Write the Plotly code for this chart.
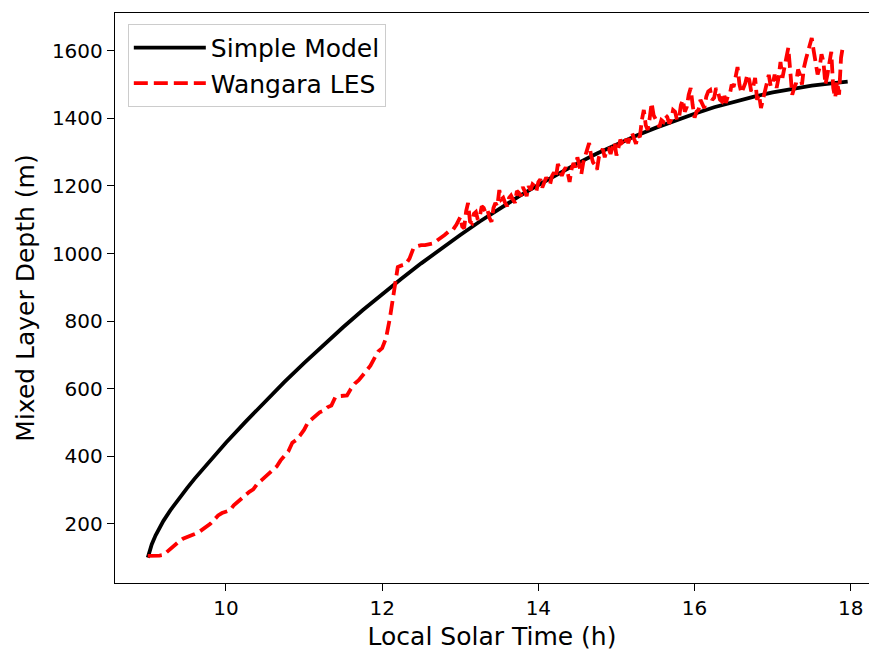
import plotly.graph_objects as go

# Simple (slab) model of mixed-layer growth
model_time = [9.00, 9.02, 9.05, 9.10, 9.15, 9.20, 9.30, 9.40, 9.50, 9.60, 9.70, 9.80, 9.90,
              10.00, 10.25, 10.50, 10.75, 11.00, 11.25, 11.50, 11.75, 12.00, 12.25,
              12.50, 12.75, 13.00, 13.25, 13.50, 13.75, 14.00, 14.25, 14.50, 14.75,
              15.00, 15.25, 15.50, 15.75, 16.00, 16.25, 16.50, 16.75, 17.00, 17.25,
              17.50, 17.75, 17.96]
model_depth = [100, 118, 139, 166, 189, 209, 244, 276, 305, 334, 361, 388, 414,
               440, 502, 562, 620, 676, 730, 782, 832, 880, 926,
               971, 1014, 1055, 1095, 1133, 1169, 1203, 1236, 1267, 1296,
               1323, 1349, 1372, 1394, 1414, 1433, 1449, 1464, 1477, 1488,
               1497, 1504, 1509]

# Wangara large-eddy simulation output: morning growth (3-min samples)
les_time_am = [9.00, 9.05, 9.10, 9.15, 9.20, 9.25, 9.30, 9.35, 9.40, 9.45, 9.50, 9.55,
               9.60, 9.65, 9.70, 9.75, 9.80, 9.85, 9.90, 9.95, 10.00, 10.05, 10.10, 10.15,
               10.20, 10.25, 10.30, 10.35, 10.40, 10.45, 10.50, 10.55, 10.60, 10.65, 10.70,
               10.75, 10.80, 10.85, 10.90, 10.95, 11.00, 11.05, 11.10, 11.15, 11.20, 11.25,
               11.30, 11.35, 11.40, 11.45, 11.50, 11.55, 11.60, 11.65, 11.70, 11.75, 11.80,
               11.85, 11.90, 11.95, 12.00, 12.05, 12.10, 12.15, 12.20, 12.25, 12.30, 12.35,
               12.40, 12.45, 12.50, 12.55, 12.60, 12.65, 12.70, 12.75, 12.80, 12.85, 12.90,
               12.95]
les_depth_am = [105, 105, 105, 106, 108, 118, 128, 140, 148, 156, 160, 165,
                170, 175, 183, 190, 200, 212, 225, 232, 236, 240, 255, 265,
                275, 287, 295, 302, 318, 328, 338, 350, 360, 370, 388,
                400, 415, 440, 448, 462, 478, 500, 510, 520, 530, 535,
                545, 550, 575, 578, 578, 580, 600, 615, 625, 640, 655,
                668, 690, 710, 720, 750, 810, 893, 960, 965, 968, 985,
                1015, 1022, 1025, 1025, 1028, 1030, 1038, 1045, 1055, 1065, 1068,
                1085]

# Afternoon (1.5-min samples, turbulent fluctuations of the inversion height)
les_time_pm = [13.000, 13.025, 13.050, 13.075, 13.100, 13.125, 13.150, 13.175, 13.200, 13.225,
               13.250, 13.275, 13.300, 13.325, 13.350, 13.375, 13.400, 13.425, 13.450, 13.475,
               13.500, 13.525, 13.550, 13.575, 13.600, 13.625, 13.650, 13.675, 13.700, 13.725,
               13.750, 13.775, 13.800, 13.825, 13.850, 13.875, 13.900, 13.925, 13.950, 13.975,
               14.000, 14.025, 14.050, 14.075, 14.100, 14.125, 14.150, 14.175, 14.200, 14.225,
               14.250, 14.275, 14.300, 14.325, 14.350, 14.375, 14.400, 14.425, 14.450, 14.475,
               14.500, 14.525, 14.550, 14.575, 14.600, 14.625, 14.650, 14.675, 14.700, 14.725,
               14.750, 14.775, 14.800, 14.825, 14.850, 14.875, 14.900, 14.925, 14.950, 14.975,
               15.000, 15.025, 15.050, 15.075, 15.100, 15.125, 15.150, 15.175, 15.200, 15.225,
               15.250, 15.275, 15.300, 15.325, 15.350, 15.375, 15.400, 15.425, 15.450, 15.475,
               15.500, 15.525, 15.550, 15.575, 15.600, 15.625, 15.650, 15.675, 15.700, 15.725,
               15.750, 15.775, 15.800, 15.825, 15.850, 15.875, 15.900, 15.925, 15.950, 15.975,
               16.000, 16.025, 16.050, 16.075, 16.100, 16.125, 16.150, 16.175, 16.200, 16.225,
               16.250, 16.275, 16.300, 16.325, 16.350, 16.375, 16.400, 16.425, 16.450, 16.475,
               16.500, 16.525, 16.550, 16.575, 16.600, 16.625, 16.650, 16.675, 16.700, 16.725,
               16.750, 16.775, 16.800, 16.825, 16.850, 16.875, 16.900, 16.925, 16.950, 16.975,
               17.000, 17.025, 17.050, 17.075, 17.100, 17.125, 17.150, 17.175, 17.200, 17.225,
               17.250, 17.275, 17.300, 17.325, 17.350, 17.375, 17.400, 17.425, 17.450, 17.475,
               17.500, 17.525, 17.550, 17.575, 17.600, 17.625, 17.650, 17.675, 17.700, 17.725,
               17.750, 17.775, 17.800, 17.825, 17.850, 17.875, 17.900]
les_depth_pm = [1108, 1080, 1075, 1125, 1150, 1095, 1090, 1118, 1123, 1100,
                1110, 1140, 1135, 1120, 1128, 1105, 1094, 1135, 1150, 1140,
                1188, 1160, 1165, 1150, 1140, 1165, 1172, 1160, 1150, 1185,
                1180, 1170, 1197, 1185, 1170, 1200, 1188, 1205, 1200, 1185,
                1212, 1220, 1195, 1210, 1225, 1215, 1205, 1230, 1240, 1225,
                1265, 1250, 1230, 1245, 1255, 1240, 1212, 1250, 1268, 1255,
                1285, 1260, 1235, 1270, 1290, 1300, 1327, 1290, 1270, 1262,
                1248, 1285, 1300, 1310, 1285, 1307, 1310, 1295, 1316, 1330,
                1290, 1310, 1337, 1325, 1318, 1340, 1327, 1345, 1357, 1340,
                1325, 1350, 1345, 1395, 1425, 1380, 1366, 1400, 1446, 1410,
                1396, 1385, 1375, 1395, 1390, 1410, 1404, 1385, 1396, 1425,
                1420, 1395, 1400, 1440, 1455, 1420, 1434, 1470, 1490, 1440,
                1402, 1420, 1425, 1455, 1440, 1430, 1465, 1480, 1484, 1455,
                1461, 1490, 1478, 1455, 1450, 1475, 1446, 1465, 1470, 1500,
                1493, 1520, 1552, 1500, 1475, 1490, 1505, 1530, 1514, 1480,
                1493, 1520, 1455, 1470, 1431, 1455, 1480, 1510, 1529, 1495,
                1500, 1530, 1490, 1520, 1567, 1520, 1545, 1580, 1609, 1540,
                1470, 1490, 1505, 1545, 1529, 1500, 1550, 1575, 1597, 1610,
                1638, 1600, 1567, 1530, 1550, 1590, 1567, 1500, 1529, 1560,
                1597, 1490, 1461, 1510, 1470, 1580, 1615]

x_ticks = [10, 12, 14, 16, 18]
y_ticks = [200, 400, 600, 800, 1000, 1200, 1400, 1600]

FONT = "DejaVu Sans"

fig = go.Figure()
fig.add_trace(go.Scatter(
    x=model_time, y=model_depth, mode="lines", name="Simple Model",
    line=dict(color="black", width=3.8),
))
fig.add_trace(go.Scatter(
    x=les_time_am + les_time_pm, y=les_depth_am + les_depth_pm,
    mode="lines", name="Wangara LES",
    line=dict(color="#ff0000", width=3.8, dash="14px,6px"),
))

axis_common = dict(
    showgrid=False, zeroline=False,
    showline=True, linecolor="black", linewidth=1.4,
    ticks="outside", ticklen=7, tickwidth=1.3, tickcolor="black",
    tickfont=dict(family=FONT, size=20, color="black"),
)

fig.update_layout(
    width=869, height=651,
    margin=dict(l=115, r=0, t=13, b=68),
    plot_bgcolor="white", paper_bgcolor="white",
    font=dict(family=FONT, color="black"),
    showlegend=True,
    legend=dict(
        x=0.017, y=0.981, xanchor="left", yanchor="top",
        bgcolor="white", bordercolor="#cccccc", borderwidth=1,
        font=dict(family=FONT, size=25, color="black"),
        itemwidth=72, tracegroupgap=0,
    ),
    xaxis=dict(
        range=[8.58, 18.233], tickvals=x_ticks, mirror=True,
        title=dict(text="Local Solar Time (h)", font=dict(family=FONT, size=25), standoff=8),
        **axis_common,
    ),
    yaxis=dict(
        range=[25, 1712], tickvals=y_ticks, mirror=False,
        title=dict(text="Mixed Layer Depth (m)", font=dict(family=FONT, size=25), standoff=10),
        **axis_common,
    ),
)

fig.write_html("out.html")
